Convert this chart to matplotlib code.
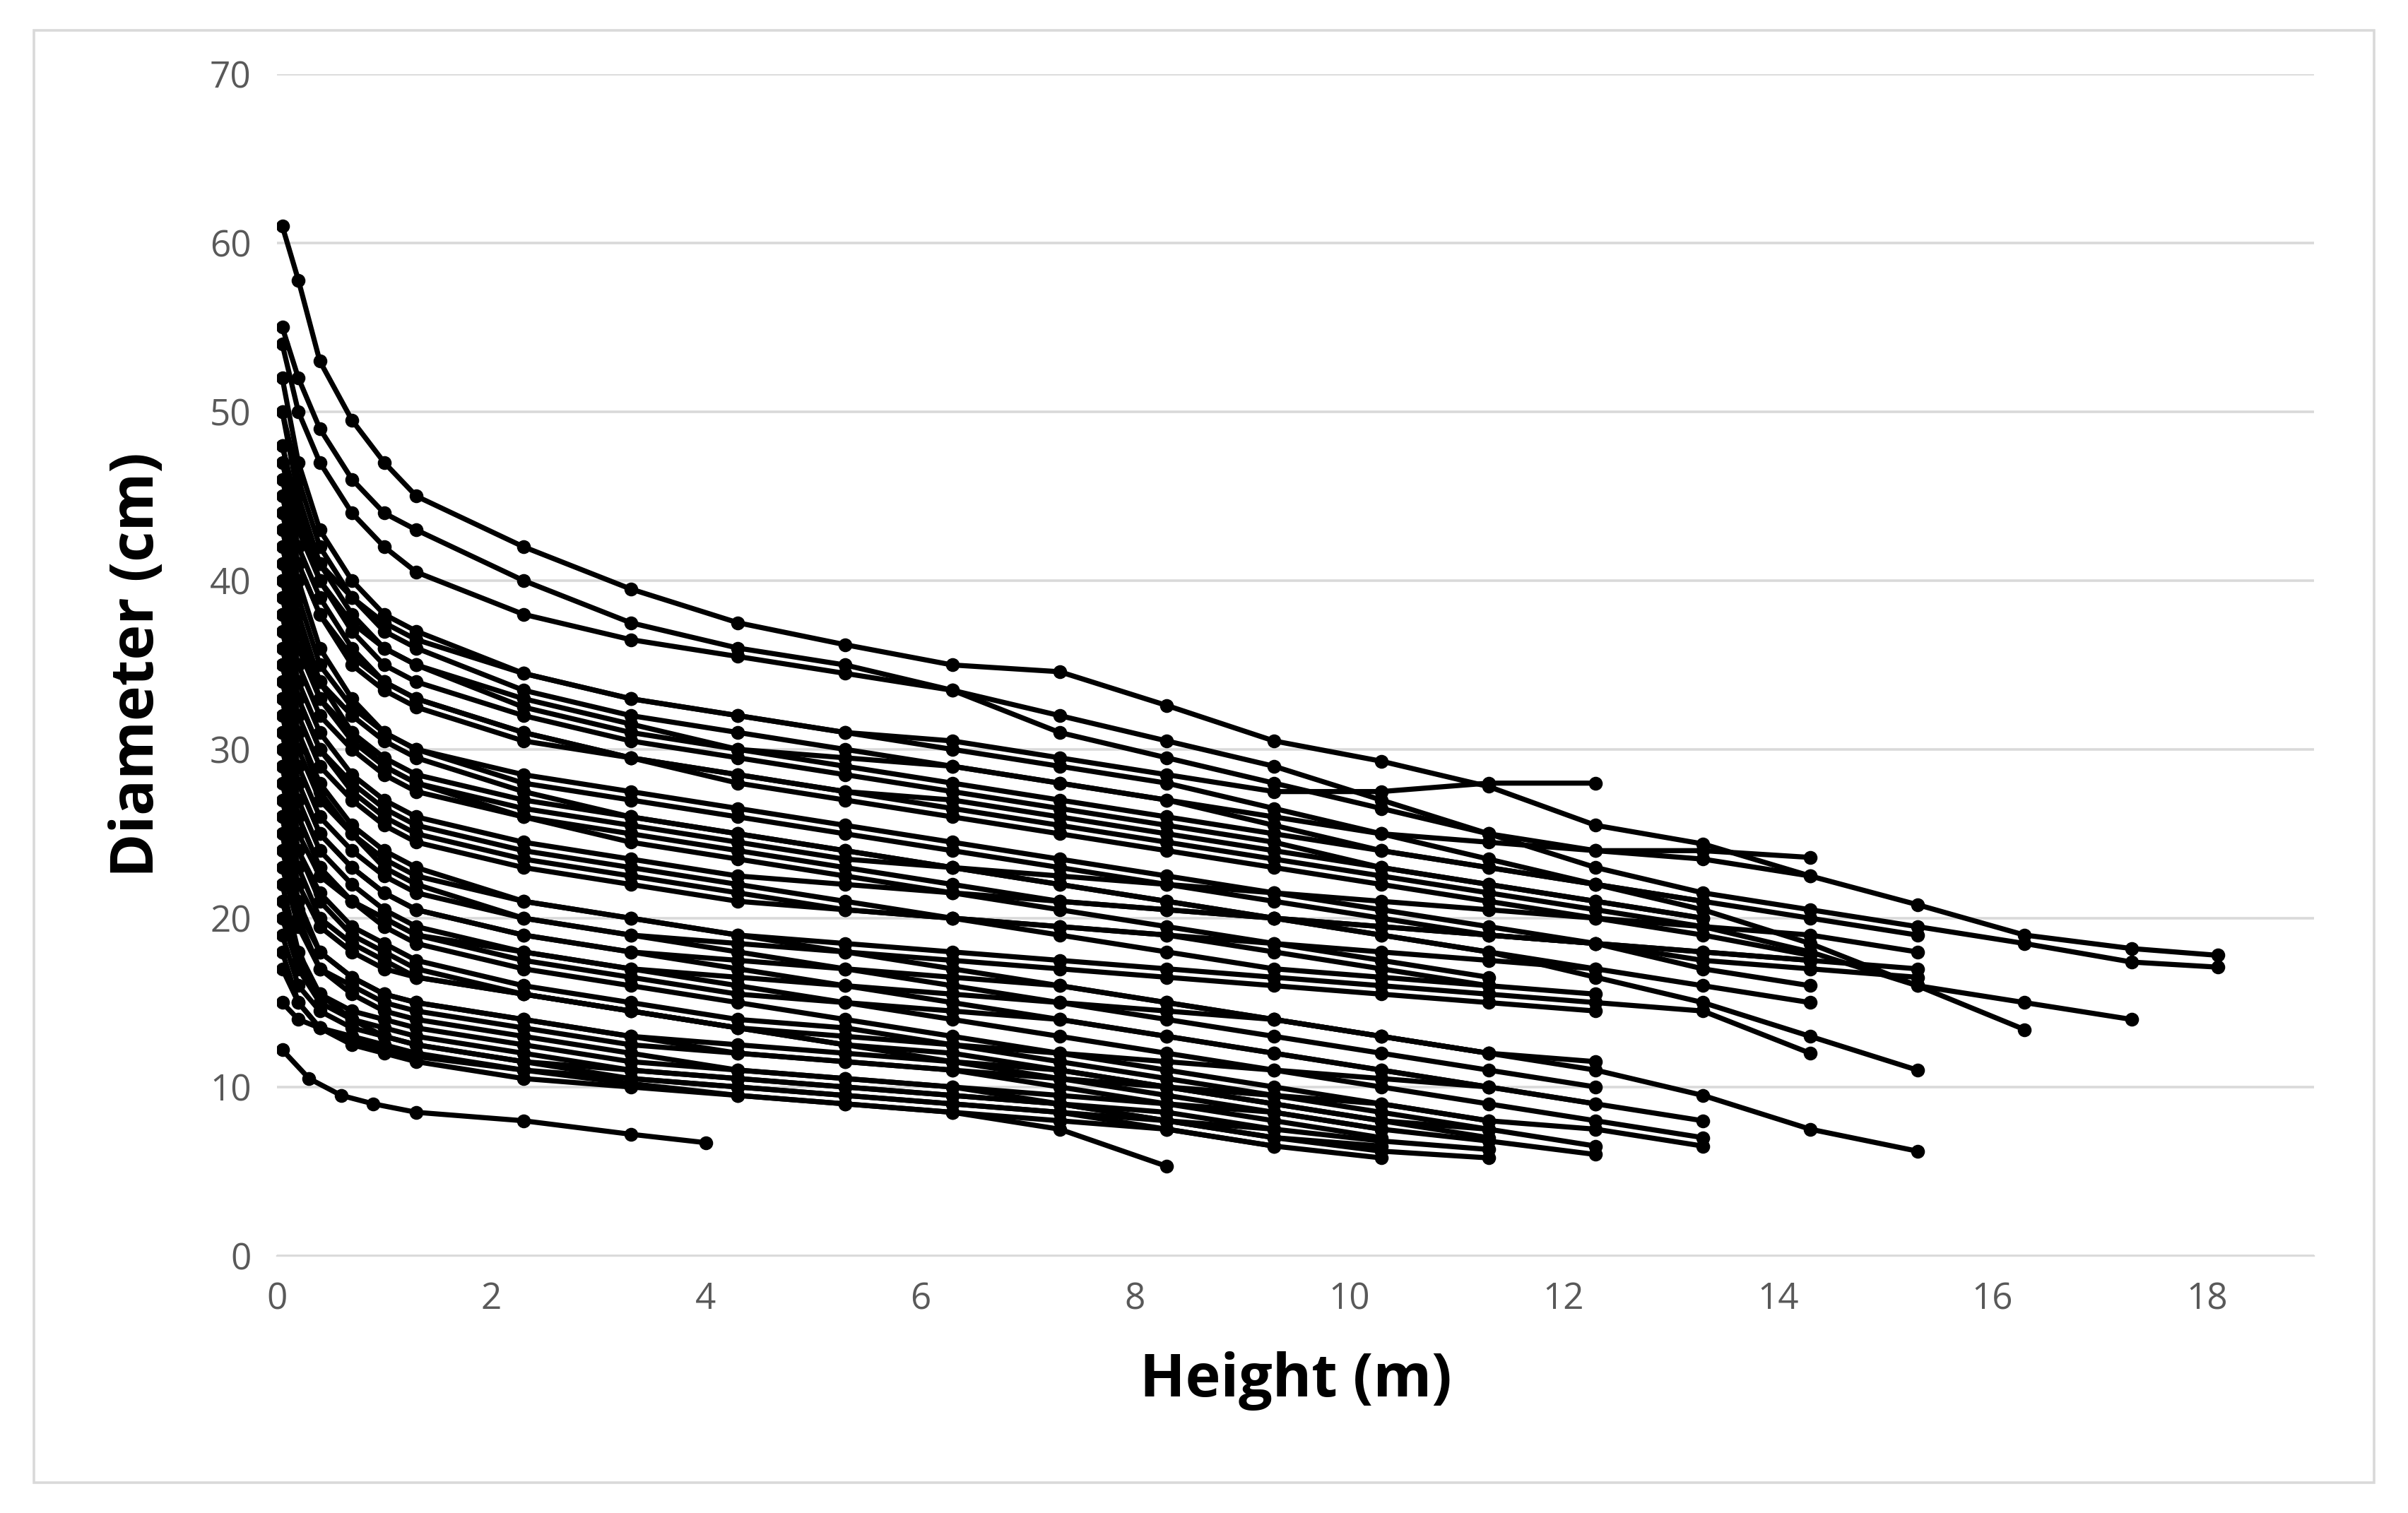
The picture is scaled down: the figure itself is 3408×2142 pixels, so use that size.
import matplotlib
matplotlib.use("Agg")
import matplotlib.pyplot as plt
from matplotlib.patches import Rectangle

plt.rcParams['font.family'] = ['Open Sans', 'DejaVu Sans']

# Sampling heights (m) shared by all stems; each stem is truncated at its last measured height
heights = [0.05, 0.2, 0.4, 0.7, 1.0, 1.3, 2.3, 3.3, 4.3, 5.3, 6.3, 7.3, 8.3, 9.3,
           10.3, 11.3, 12.3, 13.3, 14.3, 15.3, 16.3, 17.3, 18.1]

# Diameters (cm) per stem
stems = [
    [61, 57.8, 53, 49.5, 47, 45, 42, 39.5, 37.5, 36.2, 35, 34.6, 32.6, 30.5, 29.3, 27.8, 25.5, 24.4, 22.5, 20.8, 19, 18.2, 17.8],
    [55, 52, 49, 46, 44, 43, 40, 37.5, 36, 35, 33.5, 31, 29.5, 28, 26.5, 25, 23, 21.5, 20.5, 19.5, 18.5, 17.4, 17.1],
    [50, 46, 42, 39, 37, 36, 33.5, 32, 31, 30, 29, 28, 27, 25.5, 24, 23, 22, 20.5, 18.5, 16, 15, 14],
    [45, 41, 38, 35.5, 34, 33, 31, 29.5, 28.5, 27.5, 26.5, 25.5, 24.5, 23.5, 22.5, 21.5, 20.5, 19.5, 18, 16, 13.4],
    [40, 36, 33, 31, 29.5, 28.5, 27, 26, 25, 24, 23, 22, 21, 20, 19, 18, 16.5, 15, 13, 11],
    [35, 31, 28, 25.5, 24, 23, 21, 20, 19, 18, 17, 16, 15, 14, 13, 12, 11, 9.5, 7.5, 6.2],
    [17, 15, 13.5, 12.8, 12.2, 11.8, 11, 10.2, 9.5, 9, 8.5, 7.5, 5.3],
    [48, 44, 41, 39, 37.5, 36.5, 34.5, 33, 32, 31, 30.5, 29.5, 28.5, 27.5, 27.5, 28, 28],
    [54, 50, 47, 44, 42, 40.5, 38, 36.5, 35.5, 34.5, 33.5, 32, 30.5, 29, 27, 25, 24, 24, 23.6],
    [30, 26, 23, 21, 19.5, 18.5, 17, 16, 15, 14, 13, 12, 11, 10, 9, 8, 7.5, 6.5],
    [22, 18, 15.5, 14, 13, 12.5, 11.5, 10.5, 10, 9.5, 9, 8.5, 7.5, 6.5, 5.8],
    [25, 20, 17, 15.5, 14.5, 14, 13, 12, 11, 10.5, 10, 9, 8, 7, 6.2, 5.8],
    [42, 38, 34, 31, 29, 28, 26.5, 25.5, 24.5, 23.5, 23, 22.5, 22, 21.5, 21, 20.5, 20, 19.5, 19, 18],
    [38, 34, 31, 28.5, 27, 26, 24.5, 23.5, 22.5, 22, 21.5, 21, 20.5, 20, 19.5, 19, 18.5, 18, 17.5],
    [33, 29, 26, 24, 22.5, 21.5, 20, 19, 18.5, 18, 17.5, 17, 16.5, 16, 15.5, 15, 14.5],
    [28, 24, 21.5, 19.5, 18.5, 17.5, 16, 15, 14, 13.5, 12.5, 11.5, 10.5, 9.5, 8.5, 7.5, 6.5],
    [20, 17, 15, 14, 13.5, 13, 12, 11, 10.5, 10, 9.5, 9, 8.5, 7.5, 6.8, 6.3],
    [46, 42, 39, 36, 34, 33, 31, 29.5, 28, 27, 26, 25, 24, 23, 22, 21, 20, 19, 17.8],
    [36, 32, 29, 27, 25.5, 24.5, 23, 22, 21, 20.5, 20, 19.5, 19, 18.5, 18, 17.5, 17],
    [27, 23, 20, 18.5, 17.5, 16.5, 15.5, 14.5, 13.5, 13, 12.5, 12, 11.5, 11, 10.5, 10],
    [32, 28, 25, 23, 21.5, 20.5, 19, 18, 17, 16, 15, 14, 13, 12, 11, 10, 9, 8],
    [44, 40, 36, 33, 31, 30, 28, 27, 26, 25, 24, 23, 22, 21, 20, 19, 18.5, 17, 16],
    [52, 47, 43, 40, 38, 37, 34.5, 33, 32, 31, 30, 29, 28, 26.5, 25, 23.5, 22, 21],
    [24, 20.5, 18, 16.5, 15.5, 15, 14, 13, 12, 11.5, 11, 10, 9, 8, 7],
    [18, 15, 13.5, 12.5, 12, 11.5, 10.5, 10, 9.5, 9, 8.5, 8, 7.5, 6.5],
    [34, 30, 27, 25, 23.5, 22.5, 21, 20, 19, 18.5, 18, 17.5, 17, 16.5, 16, 15.5, 15, 14.5, 12],
    [40, 37, 34, 32, 30.5, 29.5, 27.5, 26, 25, 24, 23, 22, 21, 20, 19, 18, 17, 16, 15],
    [47, 43, 40, 37.5, 36, 35, 33, 31.5, 30, 29, 28, 27, 26, 25, 24, 23, 22, 21, 20, 19],
    [26, 22, 19.5, 18, 17, 16.5, 15.5, 14.5, 13.5, 12.5, 11.5, 10.5, 9.5, 8.5, 7.5, 6.8, 6],
    [31, 27, 24, 22, 20.5, 19.5, 18, 17, 16, 15, 14, 13, 12, 11, 10, 9, 8, 7],
    [37, 33, 30, 28, 26.5, 25.5, 24, 23, 22, 21, 20, 19, 18, 17, 16.5, 16, 15.5],
    [43, 39, 35, 32.5, 31, 30, 28.5, 27.5, 26.5, 25.5, 24.5, 23.5, 22.5, 21.5, 20.5, 19.5, 18.5, 17.5, 17, 16.5],
    [15, 14, 13.5, 13, 12.5, 12, 11, 10.5, 10, 9.5, 9, 8.5, 8, 7.5],
    [29, 25, 22.5, 21, 20, 19, 18, 17, 16.5, 16, 15.5, 15, 14.5, 14, 13, 12, 11.5],
    [23, 19.5, 17, 16, 15, 14.5, 13.5, 12.5, 12, 11.5, 11, 10.5, 10, 9.5, 9, 8],
    [50, 45, 41, 38, 36, 35, 32.5, 31, 30, 29.5, 29, 28, 27, 26, 25, 24.5, 24, 23.5, 22.5],
    [39, 35, 32, 30, 28.5, 27.5, 26, 25, 24, 23, 22, 21, 20.5, 20, 19.5, 19, 18.5, 18, 17.5, 17],
    [21, 17.5, 15.5, 14.5, 14, 13.5, 12.5, 11.5, 11, 10.5, 10, 9.5, 9, 8.5, 7.5],
    [41, 37, 33, 30.5, 29, 28, 26, 24.5, 23.5, 22.5, 21.5, 20.5, 19.5, 18.5, 17.5, 16.5],
    [35, 31, 27.5, 25, 23, 22, 20, 19, 18, 17, 16, 15, 14, 13, 12, 11, 10],
    [29, 24, 21, 19, 18, 17, 15.5, 14.5, 13.5, 12.5, 12, 11, 10, 9, 8, 7],
    [44, 41, 38, 35, 33.5, 32.5, 30.5, 29.5, 28.5, 27.5, 27, 26, 25, 24, 23, 22, 21, 20],
    [33, 28, 25, 23, 21.5, 20.5, 19, 18, 17.5, 17, 16.5, 16, 15, 14, 13, 12],
    [26, 21, 18, 16.5, 15.5, 15, 14, 13, 12.5, 12, 11.5, 11, 10, 9, 8, 7.5],
    [38, 33, 30, 27.5, 26, 25, 23.5, 22.5, 21.5, 20.5, 20, 19.5, 19, 18, 17, 16],
    [31, 26, 23, 21, 20, 19, 17.5, 16.5, 15.5, 15, 14.5, 14, 13, 12, 11, 10, 9],
    [19, 16, 14.5, 13.5, 13, 12.5, 11.5, 11, 10.5, 10, 9.5, 9, 8, 7, 6.5],
    [48, 44, 40, 37, 35, 34, 32, 30.5, 29.5, 28.5, 27.5, 26.5, 25.5, 24.5, 23, 22, 21, 20],
]

# Small stem measured only to 4 m
small_h = [0.05, 0.3, 0.6, 0.9, 1.3, 2.3, 3.3, 4.0]
small_d = [12.2, 10.5, 9.5, 9.0, 8.5, 8.0, 7.2, 6.7]

fig = plt.figure(figsize=(3408 / 217, 2142 / 217), dpi=217)
ax = fig.add_axes([0.115, 0.17, 0.846, 0.781])

for d in stems:
    ax.plot(heights[:len(d)], d, color='black', lw=2.4, marker='o', ms=5.5)
ax.plot(small_h, small_d, color='black', lw=2.4, marker='o', ms=5.5)

ax.set_xlim(0, 19)
ax.set_ylim(0, 70)
ax.set_xticks(range(0, 19, 2))
ax.set_yticks(range(0, 71, 10))
ax.yaxis.grid(True, color='#d9d9d9', lw=1.2)
ax.set_axisbelow(True)
for s in ['top', 'right', 'left']:
    ax.spines[s].set_visible(False)
ax.spines['bottom'].set_color('#d9d9d9')
ax.tick_params(length=0, labelsize=17, colors='#595959', pad=12)
ax.set_xlabel('Height (m)', fontsize=28, fontweight='bold', labelpad=16)
ax.set_ylabel('Diameter (cm)', fontsize=28, fontweight='bold', labelpad=20)

fig.patches.append(Rectangle((0.014, 0.02), 0.972, 0.96, transform=fig.transFigure,
                             fill=False, edgecolor='#d9d9d9', lw=1.2))

fig.savefig('out.png', dpi=217)
